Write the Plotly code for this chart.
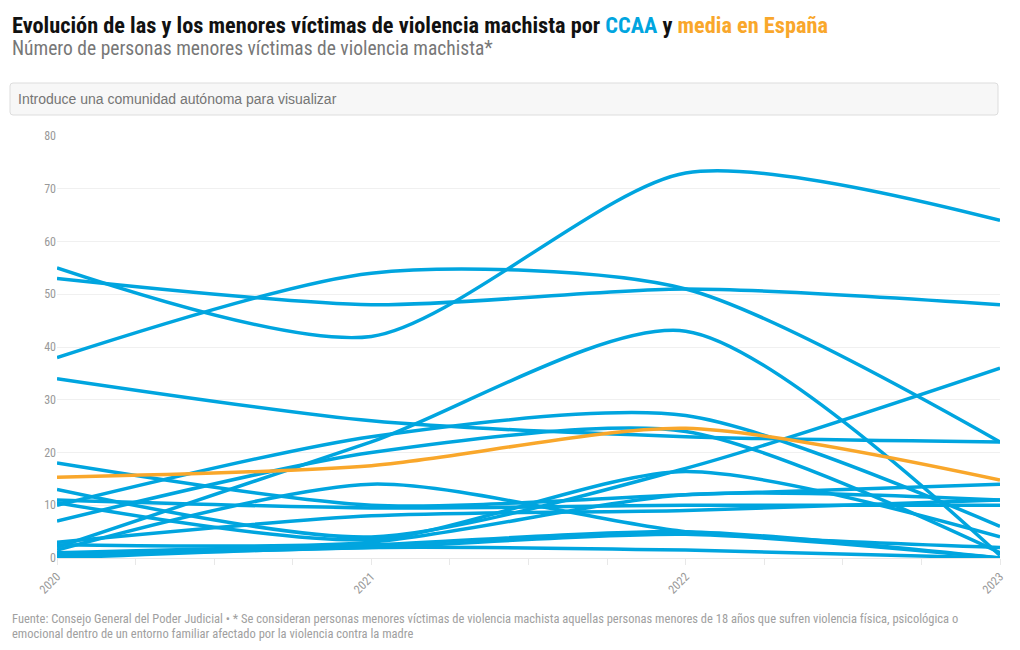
import plotly.graph_objects as go

# ---------------- data ----------------
years = [2020, 2021, 2022, 2023]

ccaa_series = {
    "CCAA 1": [55, 42, 73, 64],
    "CCAA 2": [53, 48, 51, 48],
    "CCAA 3": [38, 54, 51, 22],
    "CCAA 4": [34, 26, 23, 22],
    "CCAA 5": [10, 23, 27, 6],
    "CCAA 6": [2, 22, 43, 0.5],
    "CCAA 7": [7, 20, 24, 1],
    "CCAA 8": [1.5, 14, 5, 2],
    "CCAA 9": [18, 10, 12, 14],
    "CCAA 10": [11, 9.5, 10, 10],
    "CCAA 11": [3, 8, 9, 11],
    "CCAA 12": [13, 4, 17, 36],
    "CCAA 13": [10.5, 3.5, 16.4, 4],
    "CCAA 14": [2.5, 3, 12, 11],
    "CCAA 15": [1, 2.5, 5, 0],
    "CCAA 16": [0.5, 2, 4.5, 0],
    "CCAA 17": [0, 2, 1.5, 0],
}
media_espana = [15.3, 17.5, 24.6, 14.8]

quarter_ticks = [2020 + i * 0.25 for i in range(13)]
quarter_labels = [str(int(t)) if abs(t - round(t)) < 1e-9 else "" for t in quarter_ticks]
y_ticks = [0, 10, 20, 30, 40, 50, 60, 70, 80]

title_main = "Evolución de las y los menores víctimas de violencia machista por"
subtitle = "Número de personas menores víctimas de violencia machista*"
placeholder = "Introduce una comunidad autónoma para visualizar"
footer_1 = ("Fuente: Consejo General del Poder Judicial • * Se consideran personas menores víctimas de violencia "
            "machista aquellas personas menores de 18 años que sufren violencia física, psicológica o")
footer_2 = "emocional dentro de un entorno familiar afectado por la violencia contra la madre"

# ---------------- style ----------------
BLUE = "#00a5df"
ORANGE = "#f9a72b"
COND = "Roboto Condensed, Liberation Sans Narrow, Roboto, sans-serif"

W, H = 1020, 650
ML, MR, MT, MB = 57, 20, 136, 92
PW, PH = W - ML - MR, H - MT - MB


def px(x):
    return (x - ML) / PW


def py(y):
    return (H - MB - y) / PH


fig = go.Figure()
for name, vals in ccaa_series.items():
    fig.add_trace(go.Scatter(x=years, y=vals, mode="lines", name=name,
                             line=dict(color=BLUE, width=3.5, shape="spline", smoothing=0.75),
                             hoverinfo="skip", showlegend=False))
fig.add_trace(go.Scatter(x=years, y=media_espana, mode="lines", name="Media España",
                         line=dict(color=ORANGE, width=3.5, shape="spline", smoothing=0.75),
                         hoverinfo="skip", showlegend=False))

annotations = [
    dict(x=px(10), y=py(25), xref="paper", yref="paper", xanchor="left", yanchor="middle",
         text=f"<b>{title_main} <span style='color:{BLUE}'>CCAA</span> y "
              f"<span style='color:{ORANGE}'>media en España</span></b>",
         showarrow=False, font=dict(family=COND, size=22.3, color="#111111")),
    dict(x=px(10), y=py(48), xref="paper", yref="paper", xanchor="left", yanchor="middle",
         text=subtitle, showarrow=False, font=dict(family=COND, size=19.5, color="#777777")),
    dict(x=px(16), y=py(99), xref="paper", yref="paper", xanchor="left", yanchor="middle",
         text=placeholder, showarrow=False, font=dict(family="Liberation Sans, Arial", size=14, color="#757575")),
    dict(x=px(10), y=py(618), xref="paper", yref="paper", xanchor="left", yanchor="middle",
         text=footer_1, showarrow=False, font=dict(family=COND, size=12.5, color="#a0a0a0")),
    dict(x=px(10), y=py(633), xref="paper", yref="paper", xanchor="left", yanchor="middle",
         text=footer_2, showarrow=False, font=dict(family=COND, size=12.5, color="#a0a0a0")),
]

# input box with rounded corners
x0, x1, y0, y1, r = 10, 998, 83, 115, 3
rx, ry = r / PW, r / PH
X0, X1, Y0, Y1 = px(x0), px(x1), py(y1), py(y0)
path = (f"M {X0+rx},{Y0} L {X1-rx},{Y0} Q {X1},{Y0} {X1},{Y0+ry} L {X1},{Y1-ry} Q {X1},{Y1} {X1-rx},{Y1} "
        f"L {X0+rx},{Y1} Q {X0},{Y1} {X0},{Y1-ry} L {X0},{Y0+ry} Q {X0},{Y0} {X0+rx},{Y0} Z")
shapes = [dict(type="path", path=path, xref="paper", yref="paper",
               fillcolor="#f7f7f7", line=dict(color="#dddddd", width=1), layer="below")]

fig.update_layout(
    width=W, height=H,
    margin=dict(l=ML, r=MR, t=MT, b=MB),
    paper_bgcolor="white", plot_bgcolor="white",
    hovermode=False,
    annotations=annotations,
    shapes=shapes,
    xaxis=dict(range=[2020, 2023], tickmode="array", tickvals=quarter_ticks, ticktext=quarter_labels,
               tickangle=-45, ticks="outside", ticklen=6, tickcolor="#e8e8e8",
               tickfont=dict(family=COND, size=12, color="#999999"),
               showgrid=False, zeroline=False, showline=True, linecolor="#e8e8e8", linewidth=1,
               fixedrange=True),
    yaxis=dict(range=[0, 80], tickmode="array", tickvals=y_ticks,
               tickfont=dict(family=COND, size=12, color="#999999"),
               showgrid=True, gridcolor="#f0f0f0", gridwidth=1, zeroline=False,
               ticks="", showline=False, fixedrange=True),
)

fig.write_html("out.html", config={"displayModeBar": False},
               post_script="document.body.style.margin='0';")
